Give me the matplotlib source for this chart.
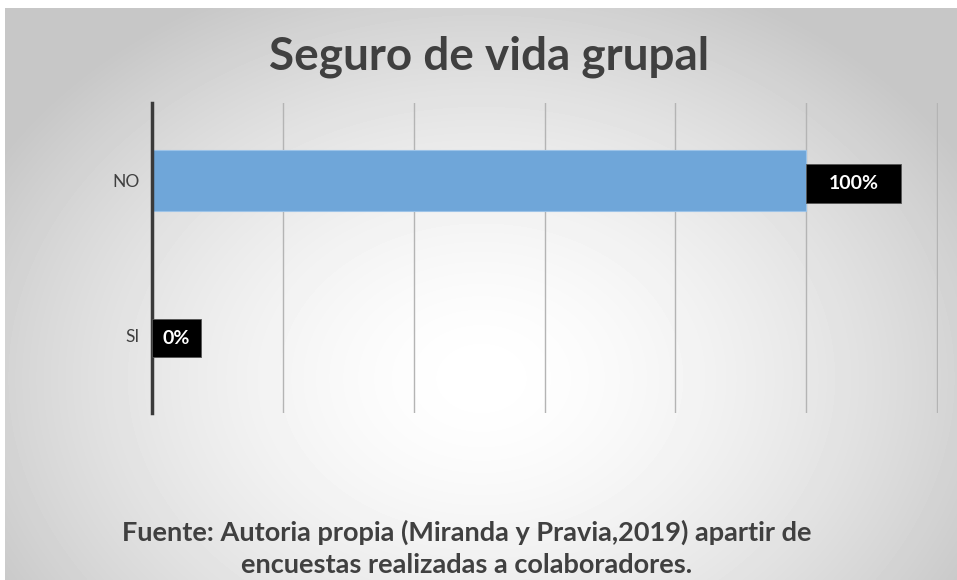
"""Horizontal bar chart: Seguro de vida grupal."""

import matplotlib.pyplot as plt
import numpy as np

categories = ["SI", "NO"]
values = [0.0, 1.0]
value_labels = ["0%", "100%"]

TITLE = "Seguro de vida grupal"
SOURCE = ("Fuente: Autoria propia (Miranda y Pravia,2019) apartir de\n"
          "encuestas realizadas a colaboradores.")

TEXT_COLOR = "#404040"
BAR_COLOR = "#6fa6d9"
FONT = ["Lato", "DejaVu Sans"]

plt.rcParams["font.family"] = FONT

fig = plt.figure(figsize=(9.57, 5.8), dpi=100)

# radial gradient background behind everything
bg = fig.add_axes([5 / 957, 0, 1 - 5 / 957, 1 - 8 / 580], zorder=-10)
h, w = 572, 952
yy, xx = np.mgrid[0:h, 0:w]
r = np.sqrt(((xx - 476) / 560.0) ** 2 + ((yy - 370) / 430.0) ** 2)
shade = 1.0 - 0.22 * np.clip(r, 0, 1) ** 1.6
bg.imshow(shade, cmap="gray", vmin=0, vmax=1, aspect="auto",
          extent=(0, 1, 0, 1), interpolation="bilinear")
bg.set_axis_off()

ax = fig.add_axes([152 / 957, 167 / 580, 786 / 957, 310 / 580])
ax.set_facecolor("none")

y = np.arange(len(categories))
ax.barh(y, values, height=0.39, color=BAR_COLOR, edgecolor="#9cc3e8",
        linewidth=0.8, zorder=3)

ax.set_xlim(0, 1.2015)
ax.set_ylim(-0.5, 1.5)
ax.set_xticks(np.arange(0, 1.21, 0.2))
ax.set_xticklabels([])
ax.tick_params(axis="x", length=0)
ax.set_yticks(y)
ax.set_yticklabels(categories, fontsize=12.5, color=TEXT_COLOR)
ax.tick_params(axis="y", length=0, pad=9)
ax.grid(axis="x", color="#b4b4b4", linewidth=1.0, zorder=0)

for side in ("top", "right", "bottom"):
    ax.spines[side].set_visible(False)
ax.spines["left"].set_color("#3a3a3a")
ax.spines["left"].set_linewidth(2.5)
ax.spines["left"].set_zorder(4)

# value labels in black boxes, left edge of box at the bar end
for yi, v, lab in zip(y, values, value_labels):
    fs = 14
    if len(lab) < 3:
        pad, aspect = 0.55, 1.0
    else:
        pad, aspect = 1.15, 0.5
    ax.annotate(lab, xy=(v, yi), xytext=(pad * fs, -2),
                textcoords="offset points", ha="left", va="center",
                fontsize=fs, fontweight="bold", color="white", zorder=5,
                bbox=dict(boxstyle=f"square,pad={pad}", fc="black", ec="#555555",
                          lw=0.6, mutation_aspect=aspect))

fig.text(489 / 957, 1 - 57 / 580, TITLE, ha="center", va="center", fontsize=33,
         fontweight="bold", color=TEXT_COLOR)
fig.text(467 / 957, 1 - 548 / 580, SOURCE, ha="center", va="center",
         fontsize=19.5, fontweight="bold", color=TEXT_COLOR, linespacing=1.4)

fig.savefig("out.png", dpi=100)
